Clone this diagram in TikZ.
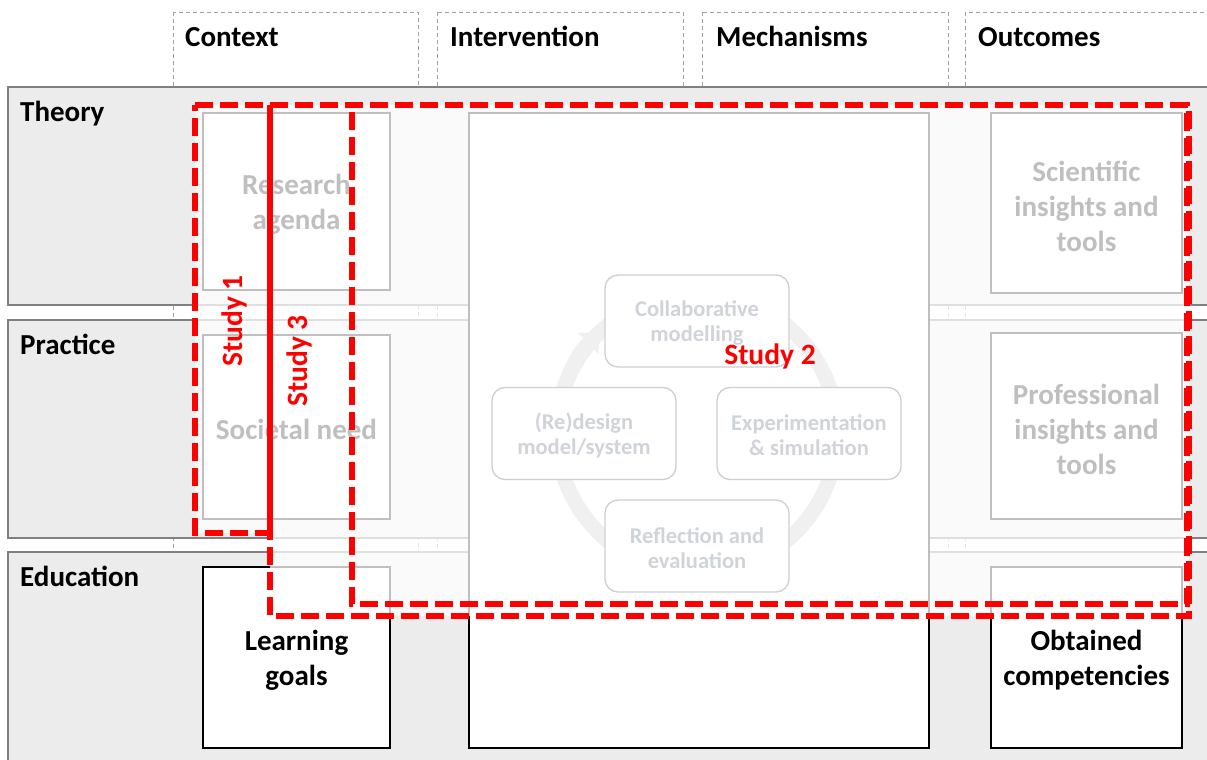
\documentclass[tikz,border=0pt]{standalone}
\usepackage{fontspec}
\setmainfont{Carlito}
\usetikzlibrary{arrows.meta}
\definecolor{rowfill}{HTML}{ECECEC}
\definecolor{rowline}{HTML}{808080}
\definecolor{colline}{HTML}{A0A0A0}
\definecolor{cyctext}{HTML}{44546A}
\definecolor{cycline}{HTML}{404040}
\definecolor{ringcol}{HTML}{C4C4C4}
\definecolor{studyred}{HTML}{FF0000}
\begin{document}
\begin{tikzpicture}[x=1pt,y=-1pt,
  colbox/.style={draw=colline,line width=0.8pt,dash pattern=on 4pt off 3pt,fill=white},
  rowbox/.style={draw=rowline,line width=1.6pt,fill=rowfill},
  heading/.style={anchor=base west,inner sep=0pt,font=\fontsize{29}{35}\selectfont\bfseries},
  cbox/.style={draw=black,line width=1.4pt,fill=white,inner sep=0pt},
  ctext/.style={inner sep=0pt,align=center,font=\fontsize{29}{35}\selectfont\bfseries},
  cycbox/.style={draw=cycline,line width=1.3pt,fill=white,rounded corners=13pt,
    minimum width=184pt,minimum height=92pt,inner sep=0pt},
  cyctxt/.style={inner sep=0pt,align=center,text=cyctext,
    font=\fontsize{22.5}{25}\selectfont\bfseries},
  ring/.style={draw=ringcol,line width=15pt},
  studybox/.style={draw=studyred,line width=5.5pt,dash pattern=on 18pt off 7pt},
  studylabel/.style={text=studyred,inner sep=0pt,font=\fontsize{29.5}{35}\selectfont\bfseries}]
\useasboundingbox (0,0) rectangle (1207,760);
\clip (0,0) rectangle (1207,760);
\fill[white] (0,0) rectangle (1207,760);

% column frames
\draw[colbox] (173,12) rectangle (418,780);
\draw[colbox] (437,12) rectangle (683,780);
\draw[colbox] (702,12) rectangle (948,780);
\draw[colbox] (965,12) rectangle (1230,780);
\node[heading] (hctx) at (185,47) {Context};
\node[heading] (hint) at (450,47) {Intervention};
\node[heading] (hmec) at (716,47) {Mechanisms};
\node[heading] (hout) at (978,47) {Outcomes};

% row bands
\draw[rowbox] (8,87) rectangle (1230,305);
\draw[rowbox] (8,320) rectangle (1230,538);
\draw[rowbox] (8,552) rectangle (1230,780);
\node[heading] (hthe) at (20,121) {Theory};
\node[heading] (hpra) at (20,354) {Practice};
\node[heading] (hedu) at (20,586) {Education};

% content boxes
\node[cbox,minimum width=187pt,minimum height=177pt] (agenda) at (296.5,201.5) {};
\node[cbox,minimum width=187pt,minimum height=184pt] (need) at (296.5,427) {};
\node[cbox,minimum width=187pt,minimum height=181pt] (goals) at (296.5,657.5) {};
\node[cbox,minimum width=460pt,minimum height=635pt] (inter) at (699,430.5) {};
\node[cbox,minimum width=191pt,minimum height=180pt] (sci) at (1086.5,203) {};
\node[cbox,minimum width=191pt,minimum height=186pt] (prof) at (1086.5,426) {};
\node[cbox,minimum width=191pt,minimum height=181pt] (comp) at (1086.5,657.5) {};
\node[ctext] (agendaT) at ([yshift=-3pt]agenda.center) {Research\\agenda};
\node[ctext] (needT) at ([yshift=-2pt]need.center) {Societal need};
\node[ctext] (goalsT) at ([yshift=-3pt]goals.center) {Learning\\goals};
\node[ctext] (sciT) at ([yshift=-3pt]sci.center) {Scientific\\insights and\\tools};
\node[ctext] (profT) at ([yshift=-3pt]prof.center) {Professional\\insights and\\tools};
\node[ctext] (compT) at ([yshift=-3pt]comp.center) {Obtained\\competencies};

% modelling cycle
\coordinate (cyc) at (697,433);
\draw[ring] (cyc) circle[radius=140];
\draw[ring,-{Triangle[width=28pt,length=16pt]}] ([shift={(-175:140)}]cyc)
  arc[start angle=-175,end angle=-134,radius=140];
\node[cycbox] (collab) at (697,321) {};
\node[cycbox] (redesign) at (584,433.5) {};
\node[cycbox] (experim) at (809,433.5) {};
\node[cycbox] (reflect) at (697,546) {};
\node[cyctxt] (collabT) at ([yshift=-2pt]collab.center) {Collaborative\\modelling};
\node[cyctxt] (redesignT) at ([yshift=-2pt]redesign.center) {(Re)design\\model/system};
\node[cyctxt] (experimT) at ([yshift=-2pt]experim.center) {Experimentation\\\&\ simulation};
\node[cyctxt] (reflectT) at ([yshift=-2pt]reflect.center) {Reflection and\\evaluation};

% faded area covered by the studies
\fill[white,opacity=0.75] (195,105) -- (1189,105) -- (1189,616) -- (270,616)
  -- (270,533) -- (195,533) -- cycle;

% study outlines, each traced from its top left corner
\draw[studybox] (195,105) -- (270,105) -- (270,533) -- (195,533) -- cycle;
\draw[studybox] (270,105) -- (1189,105) -- (1189,616) -- (270,616) -- cycle;
\draw[studybox,dash phase=7pt] (352,105) -- (1187,105) -- (1187,604) -- (352,604) -- cycle;
\node[studylabel,rotate=90] (s1) at (234,321) {Study 1};
\node[studylabel,rotate=90] (s3) at (299,361) {Study 3};
\node[studylabel] (s2) at (770,356) {Study 2};
\end{tikzpicture}
\end{document}
